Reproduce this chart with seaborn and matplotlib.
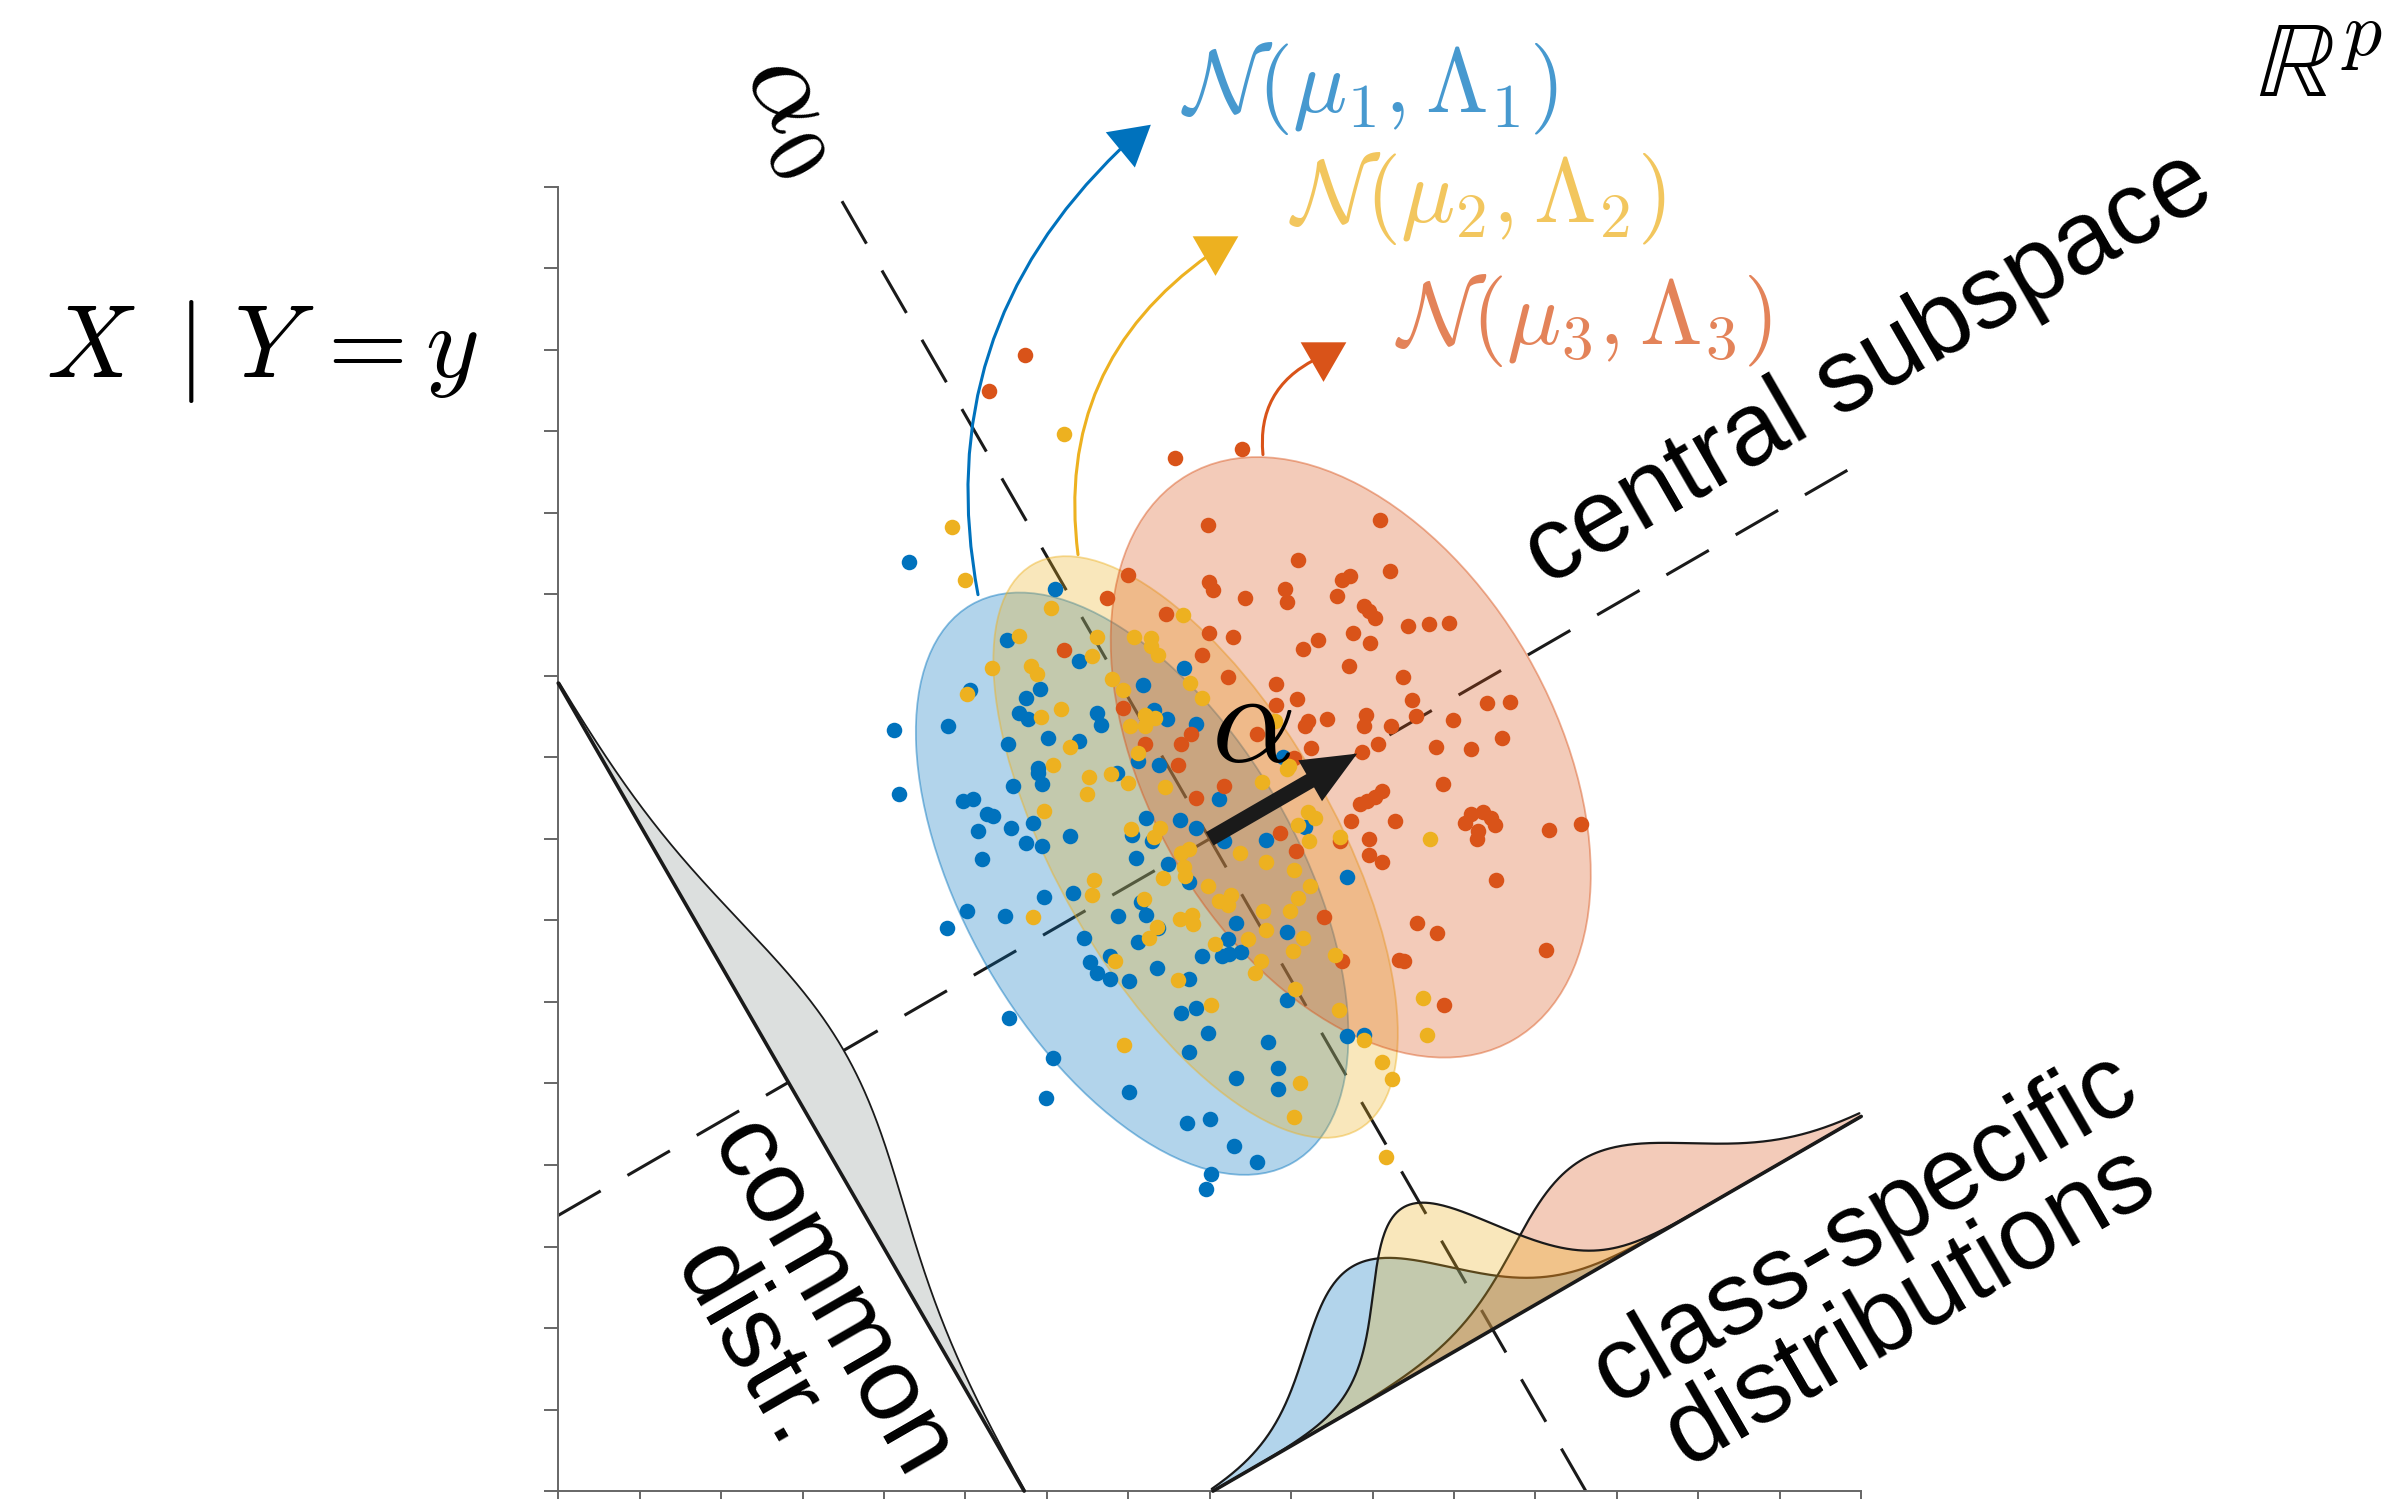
import numpy as np
import matplotlib
matplotlib.use("Agg")
import matplotlib.pyplot as plt
import seaborn as sns
from matplotlib.patches import Ellipse

sns.set_theme(style="white")
plt.rcParams["font.family"] = ["Liberation Sans", "DejaVu Sans"]
plt.rcParams["mathtext.fontset"] = "cm"
plt.rcParams["lines.scale_dashes"] = False
plt.rcParams["text.color"] = "black"

# ---------------- data ----------------
blue_x = [4.31, 6.10, 5.51, 6.40, 7.68, 7.18, 5.92, 5.06, 5.74, 5.66, 5.77, 6.62, 6.67, 7.31, 7.47, 7.83,
          4.79, 4.12, 6.01, 5.52, 6.40, 7.12, 7.38, 5.89, 8.90,
          4.18, 4.97, 5.09, 5.59, 5.89, 5.94, 6.86, 8.12, 5.27, 5.34, 5.16, 5.56, 5.83, 5.75, 5.94, 6.28,
          7.22, 7.63, 7.83, 7.04, 7.29, 8.17, 7.10, 7.49, 7.75, 5.21, 5.97, 6.32, 7.16, 5.02, 5.49, 4.77,
          6.87, 7.22, 7.37, 8.32, 6.46, 7.12, 8.23, 7.91, 8.15, 8.24, 8.38, 6.53, 6.78, 6.62, 6.78, 7.01,
          7.35, 7.75, 5.54, 7.65, 7.83, 7.98, 7.75, 6.07, 8.32, 7.01, 5.99, 7.72, 8.00, 8.30, 8.58, 8.01,
          7.96, 9.17, 8.69, 9.69, 8.95, 8.95, 9.68, 9.89, 8.72, 8.84, 8.84]
blue_y = [11.39, 11.06, 10.44, 10.18, 10.09, 9.89, 9.84, 9.82, 9.73, 9.54, 9.47, 9.54, 9.40, 9.58, 9.47, 9.41,
          9.39, 9.34, 9.24, 9.16, 9.20, 8.96, 8.91, 8.87, 9.01,
          8.55, 8.47, 8.49, 8.65, 8.81, 8.67, 8.81, 8.49, 8.31, 8.28, 8.10, 8.13, 8.19, 7.95, 7.91, 8.03,
          8.25, 8.23, 8.13, 8.05, 7.97, 7.97, 7.76, 7.69, 7.47, 7.75, 7.29, 7.34, 7.23, 7.11, 7.05, 6.91,
          7.05, 7.07, 6.91, 6.97, 6.78, 6.73, 6.77, 6.56, 6.56, 6.59, 6.61, 6.49, 6.56, 6.36, 6.28, 6.26,
          6.41, 6.28, 5.80, 5.86, 5.92, 5.62, 5.38, 5.31, 5.07, 4.90, 4.82, 4.52, 4.57, 4.23, 4.04, 3.89,
          3.71, 8.14, 7.98, 7.53, 6.86, 6.02, 5.58, 5.60, 5.51, 5.19, 4.93]

yellow_x = [6.21, 4.83, 4.99, 6.05, 7.67, 5.66, 6.62, 7.07, 7.28, 7.28, 7.36, 6.56, 5.33, 5.81, 5.88, 7.76,
            6.80, 6.94, 7.91, 5.02, 6.17, 5.93, 7.21, 7.33, 7.02, 7.20, 6.28, 7.12, 6.07, 8.80, 8.97,
            6.52, 6.49, 6.79, 7.00, 7.45, 5.97, 7.03, 7.39, 7.31, 7.65, 7.75, 7.68, 7.70, 7.43, 8.37, 6.58,
            6.56, 7.19, 5.83, 7.98, 8.12, 8.26, 8.23, 7.64, 7.78, 7.80, 7.35, 7.26, 8.06, 8.47, 6.84, 8.56,
            7.61, 8.02, 6.95,
            8.64, 8.95, 9.21, 9.29, 9.09, 9.60, 9.22, 10.71, 8.69, 9.04, 9.23, 9.08, 8.66, 8.99, 8.69, 9.15,
            9.02, 9.54, 8.63, 9.05, 9.59, 10.62, 9.90, 10.67, 10.11, 10.24, 9.11, 9.04, 10.17]
yellow_y = [12.96, 11.82, 11.17, 10.83, 10.74, 10.49, 10.48, 10.48, 10.46, 10.36, 10.25, 10.24, 10.10, 10.12,
            10.02, 9.91, 9.96, 9.83, 9.73, 9.78, 9.59, 9.49, 9.52, 9.48, 9.39, 9.38, 9.13, 9.05, 8.91, 9.44,
            8.89,
            8.76, 8.55, 8.79, 8.69, 8.64, 8.34, 8.12, 8.13, 8.02, 7.83, 7.87, 7.65, 7.55, 7.52, 7.83, 7.49,
            7.31, 7.26, 7.04, 7.42, 7.24, 7.31, 7.19, 7.02, 7.07, 6.95, 6.92, 6.78, 6.71, 6.77, 6.50, 6.35,
            6.27, 5.96, 5.47,
            8.70, 8.86, 8.33, 8.25, 8.17, 8.02, 7.97, 8.00, 7.72, 7.62, 7.42, 7.27, 7.12, 7.12, 6.88, 6.78,
            6.62, 6.57, 6.50, 6.16, 5.90, 6.05, 5.53, 5.59, 5.26, 5.06, 5.01, 4.59, 4.10]

red_x = [5.73, 5.29, 7.58, 8.40, 7.98, 7.00, 7.99, 8.04, 8.43, 6.74, 7.46, 7.99, 8.29, 7.91, 6.21, 8.22,
         6.94, 7.77, 7.65, 7.21, 7.61, 8.58,
         10.09, 9.08, 10.21, 9.72, 9.62, 8.92, 8.95, 9.56, 9.89, 9.95, 10.03, 10.43, 10.69, 10.94, 9.76,
         9.33, 9.15, 9.97, 9.71, 10.37, 8.81, 8.82, 9.07, 10.48, 11.41, 11.69, 9.44, 9.92, 9.90, 9.21,
         9.17, 10.53, 10.23, 10.99, 11.59, 9.24, 10.78, 11.21, 10.07, 9.87, 9.03,
         10.87, 10.11, 10.03, 9.93, 9.85, 9.74, 10.27, 11.21, 11.35, 11.46, 11.14, 11.50, 11.30, 11.28,
         12.17, 12.56, 9.96, 9.95, 10.12, 11.52, 8.86, 9.06, 9.60, 9.40, 10.55, 10.79, 12.13, 10.32,
         10.38, 9.63, 10.88, 8.17, 7.83]
red_y = [13.93, 13.49, 12.67, 12.78, 11.85, 11.24, 11.15, 11.05, 10.95, 10.95, 10.76, 10.52, 10.48, 10.26,
         10.32, 9.98, 9.61, 9.29, 9.16, 9.16, 8.91, 9.28,
         11.91, 11.42, 11.29, 11.22, 11.18, 11.07, 10.91, 10.98, 10.86, 10.79, 10.71, 10.61, 10.63, 10.65,
         10.53, 10.44, 10.33, 10.40, 10.12, 9.99, 9.90, 9.64, 9.71, 9.70, 9.67, 9.68, 9.47, 9.52, 9.38,
         9.44, 9.38, 9.51, 9.38, 9.46, 9.24, 9.11, 9.13, 9.10, 9.16, 9.06, 8.99,
         8.67, 8.59, 8.51, 8.47, 8.43, 8.22, 8.22, 8.30, 8.33, 8.25, 8.19, 8.17, 8.10, 8.00, 8.11, 8.18,
         8.00, 7.80, 7.72, 7.49, 8.07, 7.85, 7.97, 7.04, 6.97, 6.84, 6.64, 6.52, 6.50, 6.50, 5.96, 8.65,
         8.50]

# class model: position of each class centre along the central subspace (from the
# crossing point), semi-axes of the 2-sigma ellipses (along alpha / along alpha0)
class_names = ["blue", "yellow", "red"]
class_colors = ["#0072BD", "#EDB120", "#D95319"]
class_shift = [-1.10, -0.20, 2.00]
semi_alpha = [2.05, 1.70, 2.50]
semi_alpha0 = [3.95, 4.00, 4.00]
common_semi = 4.00
density_scale = 3.93

crossing = (8.0, 8.0)          # where the central subspace meets alpha0
subspace_angle = 30.0          # degrees
alpha_length = 2.09
class_base_start = (8.04, 0.0)
common_base_start = (0.0, 9.91)

# arrows from the ellipses to the labels: start, end, curvature, head position, head tilt
arrow_start = [(5.155, 10.995), (6.383, 11.486), (8.654, 12.713)]
arrow_end = [(6.898, 16.455), (7.999, 15.167), (9.293, 13.879)]
arrow_rad = [-0.27, -0.30, -0.34]
head_pos = [(7.016, 16.562), (8.068, 15.231), (9.389, 13.940)]
head_tilt = [9.5, 0.0, 0.0]
labels = [r"$\mathcal{N}(\mu_1,\Lambda_1)$", r"$\mathcal{N}(\mu_2,\Lambda_2)$", r"$\mathcal{N}(\mu_3,\Lambda_3)$"]
label_pos = [(7.647, 17.20), (8.974, 15.85), (10.275, 14.36)]

# ---------------- figure ----------------
fig = plt.figure(figsize=(23.98, 14.99), dpi=100)
ax = fig.add_axes([558.2 / 2398, 7.9 / 1499, 1303.0 / 2398, 1304.5 / 1499])
ax.set_xlim(0, 16)
ax.set_ylim(0, 16)
ax.set_xticks(np.arange(0, 17, 1))
ax.set_yticks(np.arange(0, 17, 1))
ax.tick_params(axis="both", direction="out", length=10, width=1.4, color="#666666",
               bottom=True, left=True, labelbottom=False, labelleft=False)
for side in ["top", "right"]:
    ax.spines[side].set_visible(False)
for side in ["left", "bottom"]:
    ax.spines[side].set_color("#666666")
    ax.spines[side].set_linewidth(1.4)
ax.patch.set_alpha(0)

th = np.deg2rad(subspace_angle)
d_sub = np.array([np.cos(th), np.sin(th)])          # central subspace direction
d_a0 = np.array([-np.sin(th), np.cos(th)])          # alpha0 direction (up-left)
C = np.array(crossing)

# dashed lines
dash = (35.3, 22.3)
xs = np.array([0.0, 16.0])
ax.plot(xs, C[1] + (xs - C[0]) * np.tan(th), color="k", lw=2.2, dashes=dash, zorder=1, clip_on=False)
t_bot = -C[1] / d_a0[1]
t_top = (16 - C[1]) / d_a0[1]
p_bot = C + t_bot * d_a0
p_top = C + t_top * d_a0
ax.plot([p_bot[0], p_top[0]], [p_bot[1], p_top[1]], color="k", lw=2.2, dashes=dash, zorder=1, clip_on=False)

# ellipses
for col, sh, sa, sa0 in zip(class_colors, class_shift, semi_alpha, semi_alpha0):
    rgb = matplotlib.colors.to_rgb(col)
    cen = C + sh * d_sub
    ax.add_patch(Ellipse(cen, width=2 * sa0, height=2 * sa, angle=subspace_angle + 90,
                         facecolor=rgb + (0.3,), edgecolor=rgb + (0.45,), lw=1.3, zorder=2))

# points
pts = [(blue_x, blue_y, class_colors[0]), (red_x, red_y, class_colors[2]), (yellow_x, yellow_y, class_colors[1])]
for px, py, col in pts:
    sns.scatterplot(x=px, y=py, color=col, s=125, linewidth=0, ax=ax, zorder=4, legend=False, clip_on=False)

# class-specific densities along the central-subspace direction
Q0 = np.array(class_base_start)
L = (16 - Q0[0]) / d_sub[0]
s = np.linspace(0, L, 500)
base = Q0[None, :] + s[:, None] * d_sub[None, :]
sC = np.dot(C - Q0, d_sub)
for k in [0, 2, 1]:
    sig = semi_alpha[k] / 2
    h = density_scale * np.exp(-0.5 * ((s - (sC + class_shift[k])) / sig) ** 2) / (sig * np.sqrt(2 * np.pi))
    curve = base + h[:, None] * d_a0[None, :]
    poly = np.vstack([curve, base[::-1]])
    ax.fill(poly[:, 0], poly[:, 1], color=class_colors[k], alpha=0.3, lw=0, zorder=3, clip_on=False)
    ax.plot(curve[:, 0], curve[:, 1], color="k", lw=1.6, zorder=3, clip_on=False)
ax.plot(base[[0, -1], 0], base[[0, -1], 1], color="k", lw=2.6, zorder=3, clip_on=False, solid_capstyle="round")

# common density along alpha0
P0 = np.array(common_base_start)
u = -d_a0
L0 = P0[1] / (-u[1])
s0 = np.linspace(0, L0, 500)
base0 = P0[None, :] + s0[:, None] * u[None, :]
m0 = np.dot(C - P0, u)
sig0 = common_semi / 2
h0 = density_scale * np.exp(-0.5 * ((s0 - m0) / sig0) ** 2) / (sig0 * np.sqrt(2 * np.pi))
n0 = d_sub
curve0 = base0 + h0[:, None] * n0[None, :]
poly0 = np.vstack([curve0, base0[::-1]])
ax.fill(poly0[:, 0], poly0[:, 1], color="#DCDFDE", lw=0, zorder=3, clip_on=False)
ax.plot(curve0[:, 0], curve0[:, 1], color="k", lw=1.3, zorder=3, clip_on=False)
ax.plot(base0[[0, -1], 0], base0[[0, -1], 1], color="k", lw=2.6, zorder=3, clip_on=False)

# alpha arrow
tip = C + alpha_length * d_sub
ax.annotate("", xy=tip, xytext=C,
            arrowprops=dict(arrowstyle="simple,head_length=3.9,head_width=3.4,tail_width=1.1",
                            mutation_scale=10, color="k", lw=0, shrinkA=0, shrinkB=0), zorder=6)
ax.text(8.51, 9.36, r"$\alpha$", fontsize=95, ha="center", va="center", zorder=7)
ax.text(2.95, 16.94, r"$\alpha_0$", fontsize=85, ha="center", va="center", rotation=-60,
        rotation_mode="anchor", zorder=7)

# curved arrows to the labels
for k in range(3):
    ax.annotate("", xy=arrow_end[k], xytext=arrow_start[k], annotation_clip=False,
                arrowprops=dict(arrowstyle="-", color=class_colors[k], lw=2.2,
                                connectionstyle=f"arc3,rad={arrow_rad[k]}", shrinkA=0, shrinkB=0))
    ax.scatter([head_pos[k][0]], [head_pos[k][1]], marker=(3, 0, 180 + head_tilt[k]), s=1444,
               color=class_colors[k], linewidths=0, zorder=6, clip_on=False)
    ax.text(label_pos[k][0], label_pos[k][1], labels[k], fontsize=65, ha="left", va="center",
            color=class_colors[k], alpha=0.72)

# annotations
ax.text(-6.29, 13.66, r"$X\;\:|\ Y\,{=}y$", fontsize=74, ha="left", va="baseline")
ax.text(20.86, 17.11, r"$\mathbb{R}^p$", fontsize=78, ha="left", va="baseline")
ax.text(16.09, 13.75, "central subspace", fontsize=74, ha="center", va="center", rotation=30,
        rotation_mode="anchor")
ax.text(2.846, 2.063, "common\ndistr.", fontsize=74, ha="center", va="center", rotation=-60,
        rotation_mode="anchor", multialignment="center", linespacing=0.95)
ax.text(16.316, 2.737, "class-specific\ndistributions", fontsize=74, ha="center", va="center",
        rotation=30, rotation_mode="anchor", multialignment="center", linespacing=0.9)

fig.savefig("out.png", dpi=100)
